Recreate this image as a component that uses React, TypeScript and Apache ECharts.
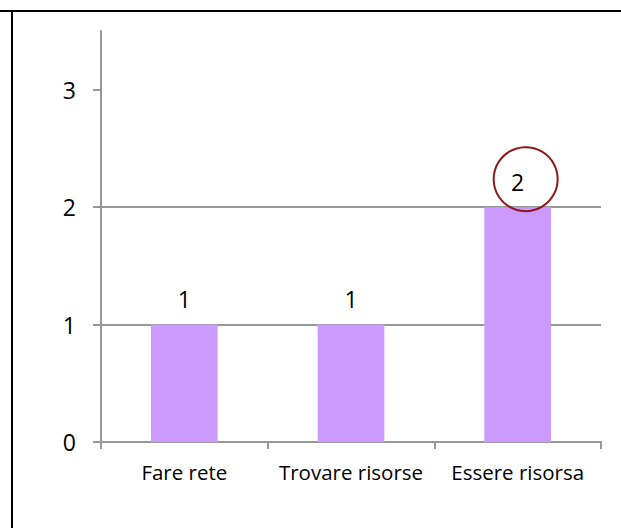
import React, { useEffect, useRef } from "react";
import * as echarts from "echarts";

const categories = ["Fare rete", "Trovare risorse", "Essere risorsa"];
const values = [1, 1, 2];
const yTickValues = [0, 1, 2, 3];
const highlightedCategory = "Essere risorsa";
const highlightedValue = 2;

const FONT = "'Open Sans', 'Noto Sans', sans-serif";
const FS = 20.5;
const NUM_FS = 23;

export default function App() {
  const ref = useRef<HTMLDivElement>(null);
  useEffect(() => {
    document.body.style.margin = "0";
    const chart = echarts.init(ref.current!, null, { renderer: "svg" });
    chart.setOption({
      animation: false,
      backgroundColor: "#ffffff",
      grid: { left: 101, right: 20, top: 31, bottom: 86, containLabel: false },
      xAxis: {
        type: "category",
        data: categories,
        axisLine: { lineStyle: { color: "#989898", width: 2 } },
        axisTick: { show: true, alignWithLabel: false, length: 7, lineStyle: { color: "#989898", width: 2 } },
        axisLabel: { color: "#000", fontSize: FS, fontFamily: FONT, margin: 19, interval: 0, hideOverlap: false },
        splitLine: { show: false },
      },
      yAxis: {
        type: "value",
        min: 0,
        max: 3.5,
        interval: 1,
        axisLine: { show: true, lineStyle: { color: "#989898", width: 2 } },
        axisTick: { show: true, length: 8, customValues: yTickValues, lineStyle: { color: "#989898", width: 2 } },
        axisLabel: { color: "#000", fontSize: NUM_FS, fontFamily: FONT, margin: 25, customValues: yTickValues },
        splitLine: { show: true, showMinLine: false, showMaxLine: false, lineStyle: { color: "#989898", width: 2 } },
      },
      series: [
        {
          type: "bar",
          data: values,
          barWidth: "40%",
          itemStyle: { color: "#CC99FF" },
          label: { show: true, position: "top", distance: 14, color: "#000", fontSize: NUM_FS, fontFamily: FONT },
          markPoint: {
            symbol: "circle",
            symbolSize: 64,
            symbolOffset: [8, -28],
            silent: true,
            label: { show: false },
            itemStyle: { color: "rgba(0,0,0,0)", borderColor: "#8B1A1A", borderWidth: 2 },
            data: [{ coord: [highlightedCategory, highlightedValue] }],
          },
        },
      ],
      graphic: [
        { type: "line", shape: { x1: 0, y1: 11, x2: 621, y2: 11 }, style: { stroke: "#000", lineWidth: 2 } },
        { type: "line", shape: { x1: 12, y1: 10, x2: 12, y2: 528 }, style: { stroke: "#000", lineWidth: 2 } },
      ],
    });
    return () => chart.dispose();
  }, []);
  return <div ref={ref} style={{ width: 621, height: 528 }} />;
}
